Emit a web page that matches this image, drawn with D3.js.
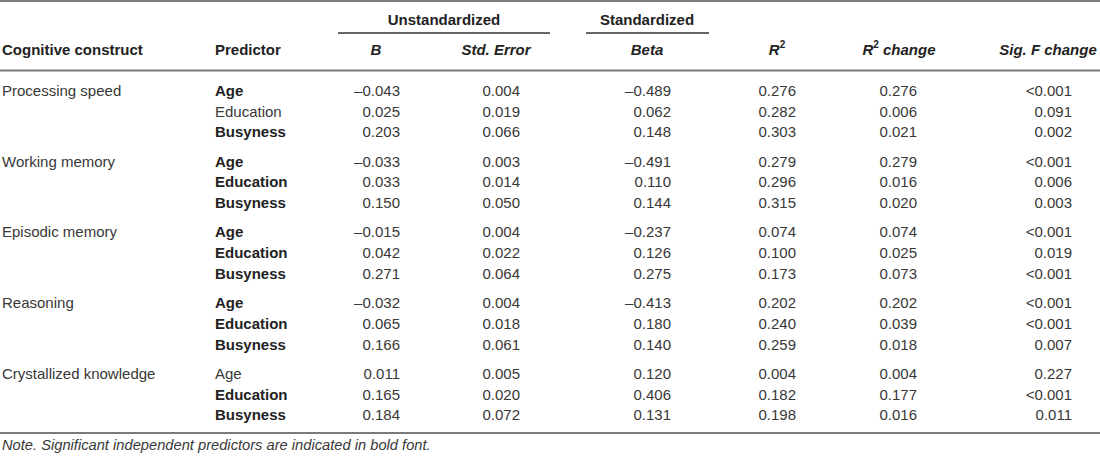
<!DOCTYPE html>
<html>
<head>
<meta charset="utf-8">
<script src="https://cdn.jsdelivr.net/npm/d3@7"></script>
<style>
  body { margin: 0; background: #fff; }
  svg { display: block; font-family: "Liberation Sans", Arial, sans-serif; }
</style>
</head>
<body>
<div id="table"></div>
<script>
const constructs = ["Processing speed", "Working memory", "Episodic memory", "Reasoning", "Crystallized knowledge"];
const predictors = ["Age", "Education", "Busyness"];

// bold = significant predictor (one row per predictor, grouped by construct)
const boldFlags = [
  [true, false, true],
  [true, true, true],
  [true, true, true],
  [true, true, true],
  [false, true, true]
];

const bValues = [
  ["–0.043", "0.025", "0.203"],
  ["–0.033", "0.033", "0.150"],
  ["–0.015", "0.042", "0.271"],
  ["–0.032", "0.065", "0.166"],
  ["0.011", "0.165", "0.184"]
];
const seValues = [
  ["0.004", "0.019", "0.066"],
  ["0.003", "0.014", "0.050"],
  ["0.004", "0.022", "0.064"],
  ["0.004", "0.018", "0.061"],
  ["0.005", "0.020", "0.072"]
];
const betaValues = [
  ["–0.489", "0.062", "0.148"],
  ["–0.491", "0.110", "0.144"],
  ["–0.237", "0.126", "0.275"],
  ["–0.413", "0.180", "0.140"],
  ["0.120", "0.406", "0.131"]
];
const r2Values = [
  ["0.276", "0.282", "0.303"],
  ["0.279", "0.296", "0.315"],
  ["0.074", "0.100", "0.173"],
  ["0.202", "0.240", "0.259"],
  ["0.004", "0.182", "0.198"]
];
const r2ChangeValues = [
  ["0.276", "0.006", "0.021"],
  ["0.279", "0.016", "0.020"],
  ["0.074", "0.025", "0.073"],
  ["0.202", "0.039", "0.018"],
  ["0.004", "0.177", "0.016"]
];
const sigFValues = [
  ["<0.001", "0.091", "0.002"],
  ["<0.001", "0.006", "0.003"],
  ["<0.001", "0.019", "<0.001"],
  ["<0.001", "<0.001", "0.007"],
  ["0.227", "<0.001", "0.011"]
];
const noteText = "Note. Significant independent predictors are indicated in bold font.";

const size = { x: 1100, y: 456 };
const textColor = "#222";
const bodyColor = "#383838";
const lineColor = "#7a7a7a";
const fontSize = 15;

// numeric columns: header label, right edge of values, header centre
const numCols = [
  { key: "b", data: bValues, header: "B", right: 400, centre: 376 },
  { key: "se", data: seValues, header: "Std. Error", right: 520, centre: 496 },
  { key: "beta", data: betaValues, header: "Beta", right: 671, centre: 647 },
  { key: "r2", data: r2Values, header: "R2", right: 796, centre: 777 },
  { key: "r2c", data: r2ChangeValues, header: "R2 change", right: 917, centre: 899 },
  { key: "sig", data: sigFValues, header: "Sig. F change", right: 1072, centre: 1048 }
];

const groupScale = d3.scaleLinear()
  .domain([0, constructs.length - 1])
  .range([92, 375]);
const rowScale = d3.scaleLinear()
  .domain([0, predictors.length - 1])
  .range([0, 41.5]);

const rowY = (g, i) => groupScale(g) + rowScale(i);

const svg = d3.select("#table")
  .append("svg")
  .attr("width", size.x)
  .attr("height", size.y)
  .attr("viewBox", [0, 0, size.x, size.y]);

// rules
const rules = [
  { x1: 0, x2: size.x, y: 1, w: 2 },
  { x1: 0, x2: size.x, y: 70.5, w: 2 },
  { x1: 0, x2: size.x, y: 433, w: 2 },
  { x1: 338, x2: 550, y: 33, w: 1.5 },
  { x1: 586, x2: 709, y: 33, w: 1.5 }
];
svg.append("g")
  .selectAll("line")
  .data(rules)
  .enter()
  .append("line")
  .attr("x1", d => d.x1)
  .attr("x2", d => d.x2)
  .attr("y1", d => d.y)
  .attr("y2", d => d.y)
  .attr("stroke", d => d.w > 1.6 ? lineColor : "#333")
  .attr("stroke-width", d => d.w);

// spanning headers
svg.append("g")
  .selectAll("text")
  .data([{ t: "Unstandardized", x: 444 }, { t: "Standardized", x: 647 }])
  .enter()
  .append("text")
  .attr("x", d => d.x)
  .attr("y", 21)
  .attr("text-anchor", "middle")
  .attr("dominant-baseline", "middle")
  .attr("font-size", fontSize)
  .attr("font-weight", "bold")
  .attr("fill", textColor)
  .text(d => d.t);

// column headers
const headerY = 51;
const head = svg.append("g")
  .attr("font-size", fontSize)
  .attr("font-weight", "bold")
  .attr("fill", textColor);

head.append("text")
  .attr("x", 2).attr("y", headerY)
  .attr("dominant-baseline", "middle")
  .text("Cognitive construct");
head.append("text")
  .attr("x", 215).attr("y", headerY)
  .attr("dominant-baseline", "middle")
  .text("Predictor");

head.selectAll("text.col")
  .data(numCols)
  .enter()
  .append("text")
  .attr("class", "col")
  .attr("x", d => d.centre)
  .attr("y", headerY)
  .attr("text-anchor", "middle")
  .attr("dominant-baseline", "middle")
  .attr("font-style", "italic")
  .each(function (d) {
    const t = d3.select(this);
    if (d.header.startsWith("R2")) {
      t.append("tspan").text("R");
      t.append("tspan").attr("font-size", 10).attr("font-style", "normal").attr("dy", -6).text("2");
      const rest = d.header.slice(2);
      if (rest) t.append("tspan").attr("dy", 6).text(rest);
    } else {
      t.text(d.header);
    }
  });

// body rows
const rows = [];
constructs.forEach((c, g) => {
  predictors.forEach((p, i) => {
    rows.push({ g, i, construct: i === 0 ? c : "", predictor: p, bold: boldFlags[g][i] });
  });
});

const body = svg.append("g")
  .attr("font-size", fontSize)
  .attr("fill", bodyColor);

const rowGroups = body.selectAll("g.row")
  .data(rows)
  .enter()
  .append("g")
  .attr("class", "row")
  .attr("transform", d => `translate(0,${rowY(d.g, d.i)})`);

rowGroups.append("text")
  .attr("x", 2)
  .attr("dominant-baseline", "middle")
  .text(d => d.construct);

rowGroups.append("text")
  .attr("x", 215)
  .attr("dominant-baseline", "middle")
  .attr("font-weight", d => d.bold ? "bold" : "normal")
  .attr("fill", d => d.bold ? textColor : bodyColor)
  .text(d => d.predictor);

numCols.forEach(col => {
  rowGroups.append("text")
    .attr("x", col.right)
    .attr("text-anchor", "end")
    .attr("dominant-baseline", "middle")
    .text(d => col.data[d.g][d.i]);
});

// note
svg.append("text")
  .attr("x", 2)
  .attr("y", 446)
  .attr("dominant-baseline", "middle")
  .attr("font-size", 14.7)
  .attr("font-style", "italic")
  .attr("fill", bodyColor)
  .text(noteText);
</script>
</body>
</html>
